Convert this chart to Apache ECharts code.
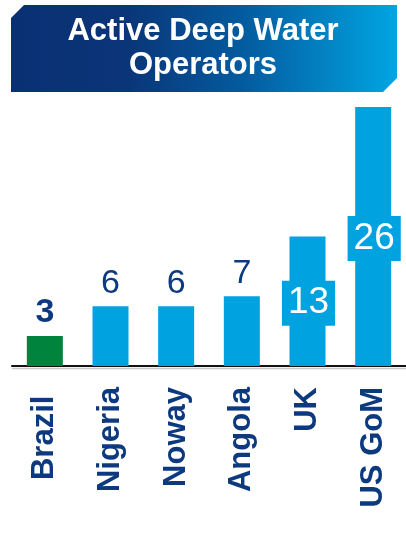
<!DOCTYPE html>
<html>
<head>
<meta charset="utf-8">
<script src="https://cdn.jsdelivr.net/npm/echarts@6/dist/echarts.min.js"></script>
<style>
html,body{margin:0;padding:0;background:#fff;}
#chart{width:406px;height:555px;}
</style>
</head>
<body>
<div id="chart"></div>
<script>
var titleText = 'Active Deep Water\nOperators';
var categories = ['Brazil ', 'Nigeria', 'Noway', 'Angola', 'UK', 'US GoM'];
var values = [3, 6, 6, 7, 13, 26];
var highlighted = ['Brazil '];
var insideLabelled = ['UK', 'US GoM'];

var NAVY = '#0d3a7f';
var BLUE = '#00a3e0';
var GREEN = '#00843d';
var FONT = 'Liberation Sans, Arial, sans-serif';

var data = values.map(function (v, i) {
  var cat = categories[i];
  var item = { value: v, itemStyle: { color: highlighted.indexOf(cat) >= 0 ? GREEN : BLUE } };
  if (insideLabelled.indexOf(cat) >= 0) {
    item.label = {
      position: 'inside', color: '#fff', fontSize: 37, fontWeight: 'normal',
      backgroundColor: BLUE, padding: [4, 6, 4, 6], lineHeight: 37, offset: [1, 2]
    };
  } else if (highlighted.indexOf(cat) >= 0) {
    item.label = { fontWeight: 'bold' };
  }
  return item;
});

var chart = echarts.init(document.getElementById('chart'), null, { renderer: 'canvas' });
chart.setOption({
  backgroundColor: '#fff',
  animation: false,
  graphic: [{
    type: 'polygon',
    z: 0,
    shape: { points: [[11, 18], [24, 5], [397, 5], [397, 78], [383, 92], [11, 92]] },
    style: {
      fill: new echarts.graphic.LinearGradient(0, 0, 1, 0, [
        { offset: 0, color: '#0a3074' },
        { offset: 0.3, color: '#0a3578' },
        { offset: 0.6, color: '#045b9f' },
        { offset: 1, color: '#00a5e2' }
      ])
    }
  }, {
    type: 'line',
    z: 0,
    shape: { x1: 12, y1: 368.5, x2: 406, y2: 368.5 },
    style: { stroke: '#c8c8c8', lineWidth: 1.5 }
  }],
  title: {
    text: titleText,
    left: 'center',
    top: 9,
    padding: 5,
    z: 10,
    textStyle: { color: '#fff', fontSize: 31, fontWeight: 'bold', lineHeight: 34, fontFamily: FONT }
  },
  grid: { left: 12, right: -2, top: 107, bottom: 189, containLabel: false },
  xAxis: {
    type: 'category',
    data: categories,
    axisLine: { lineStyle: { color: '#111', width: 2 } },
    axisTick: { show: false },
    axisLabel: { rotate: 90, margin: 21, color: NAVY, fontSize: 31, fontWeight: 'bold', fontFamily: FONT, interval: 0 }
  },
  yAxis: { type: 'value', min: 0, max: 26, show: false, splitLine: { show: false } },
  series: [{
    type: 'bar',
    data: data,
    barWidth: 36,
    label: { show: true, position: 'top', distance: 6, color: NAVY, fontSize: 34, fontFamily: FONT }
  }]
});
</script>
</body>
</html>
